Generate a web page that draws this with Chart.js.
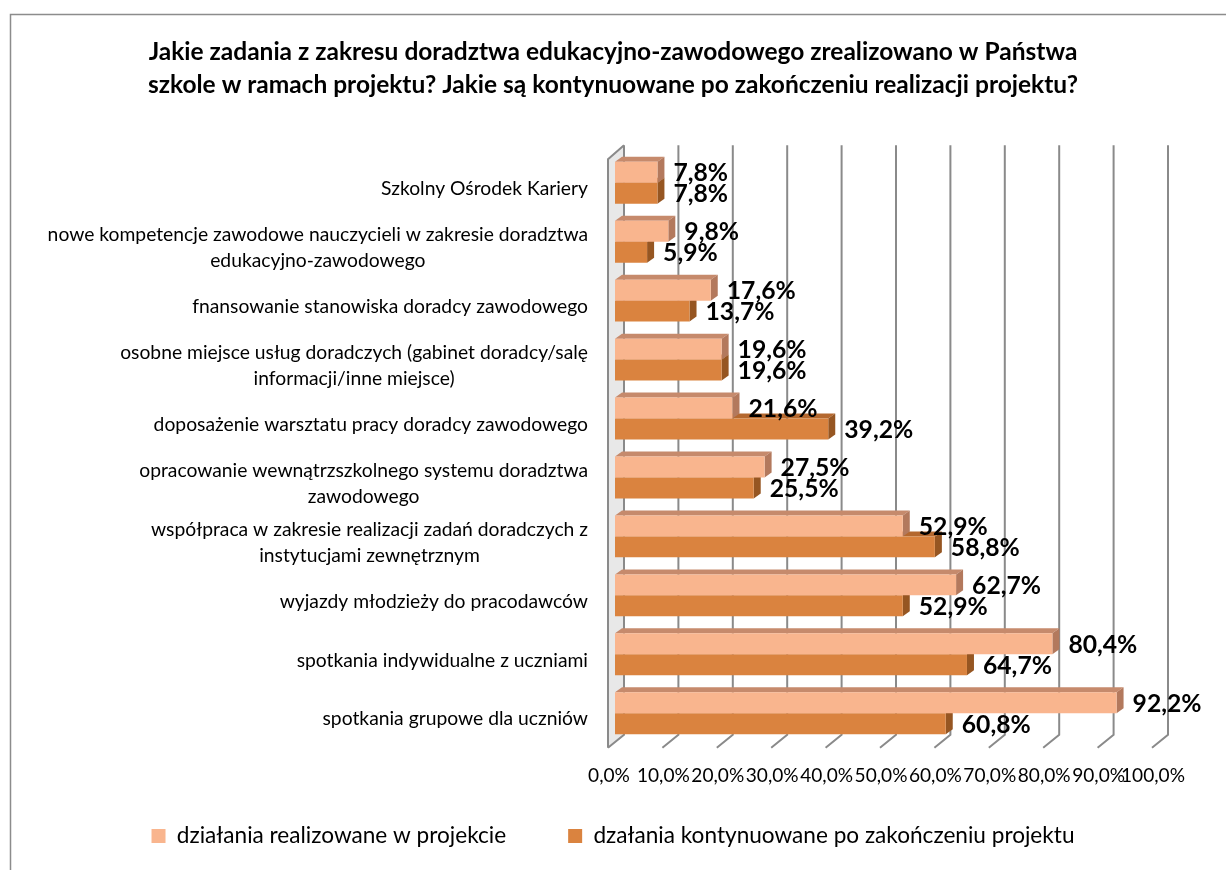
<!DOCTYPE html>
<html>
<head>
<meta charset="utf-8">
<script src="https://cdn.jsdelivr.net/npm/chart.js@4/dist/chart.umd.min.js"></script>
<style>
html,body{margin:0;padding:0;background:#fff;}
canvas{display:block;}
</style>
</head>
<body>
<canvas id="c" width="1226" height="870"></canvas>
<script>
// ---------------- data ----------------
const titleLines = [
  'Jakie zadania z zakresu doradztwa edukacyjno-zawodowego zrealizowano w Państwa',
  'szkole w ramach projektu? Jakie są kontynuowane po zakończeniu realizacji projektu?'
];
const categories = [
  ['Szkolny Ośrodek Kariery'],
  ['nowe kompetencje zawodowe nauczycieli w zakresie doradztwa', 'edukacyjno-zawodowego'],
  ['fnansowanie stanowiska doradcy zawodowego'],
  ['osobne miejsce usług doradczych (gabinet doradcy/salę', 'informacji/inne miejsce)'],
  ['doposażenie warsztatu pracy doradcy zawodowego'],
  ['opracowanie wewnątrzszkolnego systemu doradztwa', 'zawodowego'],
  ['współpraca w zakresie realizacji zadań doradczych z', 'instytucjami zewnętrznym'],
  ['wyjazdy młodzieży do pracodawców'],
  ['spotkania indywidualne z uczniami'],
  ['spotkania grupowe dla uczniów']
];
const seriesNames = [
  'działania realizowane w projekcie',
  'dzałania kontynuowane po zakończeniu projektu'
];
const realized  = [7.8, 9.8, 17.6, 19.6, 21.6, 27.5, 52.9, 62.7, 80.4, 92.2];
const continued = [7.8, 5.9, 13.7, 19.6, 39.2, 25.5, 58.8, 52.9, 64.7, 60.8];
const xMin = 0, xMax = 100, xStep = 10;

// ---------------- style ----------------
const FAMILY = 'Lato, "Open Sans", sans-serif';
const LIGHT = { front: '#F9B58E', top: '#C68A6C', side: '#B3795D' };
const DARK  = { front: '#DA833F', top: '#B4682F', side: '#965622' };
const GRID = '#8a8a8a';
const DX = 7, DY = -5;

const mctx = document.createElement('canvas').getContext('2d');
function fitSize(text, target, weight) {
  mctx.font = weight + ' 100px ' + FAMILY;
  const w = mctx.measureText(text).width;
  return Math.round(1000 * target / w) / 10;
}
const titleSize  = fitSize(titleLines[0], 930, 'bold');
const catSize    = fitSize('Szkolny Ośrodek Kariery', 207, 'normal');
const tickSize   = fitSize('10,0%', 53, 'normal');
const legendSize = fitSize(seriesNames[1], 482, 'normal');
const valueSize  = fitSize('80,4%', 69, 'bold');

const fmt = v => Number(v).toFixed(1).replace('.', ',') + '%';

// ---------------- plugins ----------------
const framePlugin = {
  id: 'frame',
  beforeDraw(chart) {
    const ctx = chart.ctx;
    ctx.save();
    ctx.strokeStyle = '#8c8c8c';
    ctx.lineWidth = 1.5;
    ctx.beginPath();
    ctx.moveTo(10.5, 870);
    ctx.lineTo(10.5, 14.5);
    ctx.lineTo(1226, 14.5);
    ctx.stroke();
    ctx.restore();
  }
};

function barFaces(ctx, el, c) {
  const p = el.getProps(['x', 'y', 'base', 'height'], true);
  const t = p.y - p.height / 2, b = p.y + p.height / 2;
  ctx.fillStyle = c.top;
  ctx.beginPath();
  ctx.moveTo(p.base, t); ctx.lineTo(p.base + DX, t + DY);
  ctx.lineTo(p.x + DX, t + DY); ctx.lineTo(p.x, t);
  ctx.closePath(); ctx.fill();
  ctx.fillStyle = c.side;
  ctx.beginPath();
  ctx.moveTo(p.x, t); ctx.lineTo(p.x + DX, t + DY);
  ctx.lineTo(p.x + DX, b + DY); ctx.lineTo(p.x, b);
  ctx.closePath(); ctx.fill();
}

const wallPlugin = {
  id: 'wall3d',
  beforeDatasetsDraw(chart) {
    const { ctx, chartArea: a, scales: { x } } = chart;
    const fT = a.top + 6, fB = a.bottom + 5, bT = a.top - 8, bB = a.bottom - 8;
    const xF = v => x.getPixelForValue(v) - 7;
    const xB = v => x.getPixelForValue(v) + 9;
    ctx.save();
    ctx.fillStyle = '#e8e8e8';
    ctx.beginPath();
    ctx.moveTo(xF(0), fT); ctx.lineTo(xB(0), bT); ctx.lineTo(xB(0), bB); ctx.lineTo(xF(0), fB);
    ctx.closePath(); ctx.fill();
    ctx.strokeStyle = GRID;
    ctx.lineWidth = 2;
    x.ticks.forEach(t => {
      const v = t.value;
      ctx.beginPath();
      ctx.moveTo(xB(v), bT); ctx.lineTo(xB(v), bB); ctx.lineTo(xF(v), fB);
      ctx.stroke();
    });
    ctx.beginPath();
    ctx.moveTo(xB(0), bT); ctx.lineTo(xF(0), fT); ctx.lineTo(xF(0), fB);
    ctx.stroke();
    // value-axis tick labels, on the front edge of the floor
    ctx.font = tickSize + 'px ' + FAMILY;
    ctx.fillStyle = '#000';
    ctx.textAlign = 'center';
    ctx.textBaseline = 'middle';
    x.ticks.forEach(t => ctx.fillText(fmt(t.value), xF(t.value) + 1, a.bottom + 33));
    // 3D faces of bars: dark series first, then light
    const m1 = chart.getDatasetMeta(1), m0 = chart.getDatasetMeta(0);
    m1.data.forEach(el => barFaces(ctx, el, DARK));
    m0.data.forEach(el => barFaces(ctx, el, LIGHT));
    ctx.restore();
  }
};

const labelPlugin = {
  id: 'labels3d',
  afterDatasetsDraw(chart) {
    const { ctx, scales: { y } } = chart;
    ctx.save();
    // category labels (each block right-aligned, lines centred within the block)
    ctx.font = catSize + 'px ' + FAMILY;
    ctx.fillStyle = '#000';
    ctx.textAlign = 'center';
    ctx.textBaseline = 'middle';
    const right = chart.chartArea.left - 27;
    const lh = 26;
    categories.forEach((lines, i) => {
      const cy = y.getPixelForTick(i) + 6;
      const w = Math.max(...lines.map(s => ctx.measureText(s).width));
      const cx = right - w / 2;
      lines.forEach((s, k) => {
        ctx.fillText(s, cx, cy + (k - (lines.length - 1) / 2) * lh);
      });
    });
    // value labels
    ctx.font = 'bold ' + valueSize + 'px ' + FAMILY;
    ctx.textAlign = 'left';
    chart.data.datasets.forEach((ds, di) => {
      chart.getDatasetMeta(di).data.forEach((el, i) => {
        const p = el.getProps(['x', 'y'], true);
        ctx.fillText(fmt(ds.data[i]), p.x + 16, p.y + 1);
      });
    });
    ctx.restore();
  }
};

// ---------------- chart ----------------
new Chart(document.getElementById('c'), {
  type: 'bar',
  data: {
    labels: categories.map(l => l.join(' ')),
    datasets: [
      { label: seriesNames[0], data: realized, backgroundColor: LIGHT.front, borderWidth: 0 },
      { label: seriesNames[1], data: continued, backgroundColor: DARK.front, borderWidth: 0 }
    ]
  },
  options: {
    indexAxis: 'y',
    responsive: false,
    animation: false,
    devicePixelRatio: 1,
    layout: { padding: { left: 67, right: 67, top: 20, bottom: 12.7 } },
    datasets: { bar: { barPercentage: 1, categoryPercentage: 0.71 } },
    scales: {
      x: {
        min: xMin, max: xMax,
        ticks: { stepSize: xStep, autoSkip: false, display: false },
        grid: { display: false, drawTicks: false },
        border: { display: false },
        afterFit: s => { s.height = 20; }
      },
      y: {
        ticks: { display: false },
        grid: { display: false, drawTicks: false },
        border: { display: false },
        afterFit: s => { s.width = 548; }
      }
    },
    plugins: {
      title: {
        display: true, text: titleLines, color: '#000',
        font: { family: FAMILY, size: titleSize, weight: 'bold', lineHeight: 33 / titleSize },
        padding: { top: 15.5, bottom: 51.8 }
      },
      legend: {
        position: 'bottom',
        labels: {
          boxWidth: 14, boxHeight: 14, padding: 62, color: '#000',
          font: { family: FAMILY, size: legendSize }
        }
      },
      tooltip: { enabled: false }
    }
  },
  plugins: [framePlugin, wallPlugin, labelPlugin]
});
</script>
</body>
</html>
